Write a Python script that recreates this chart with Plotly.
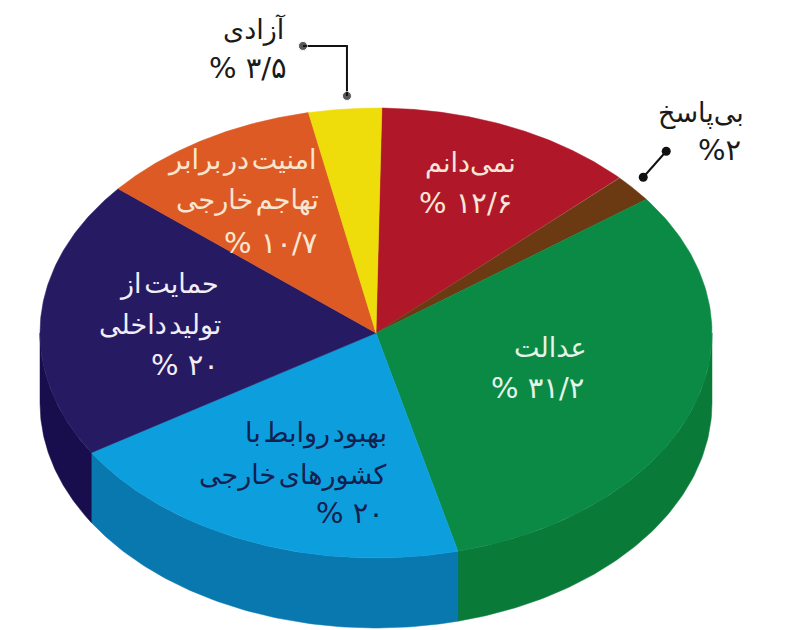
import numpy as np
import plotly.graph_objects as go

# Data, clockwise from the top of the pie
categories = ["نمی‌دانم", "بی‌پاسخ", "عدالت", "بهبود روابط با کشورهای خارجی",
              "حمایت از تولید داخلی", "امنیت در برابر تهاجم خارجی", "آزادی"]
values = [12.6, 2.0, 31.2, 20.0, 20.0, 10.7, 3.5]
top_colors = ["#B0182A", "#6B3A12", "#0A8A45", "#0D9FDD", "#261A63", "#DD5A24", "#EEDD0A"]
side_colors = ["#8E1322", "#52290C", "#0A7A39", "#0878AE", "#190E4D", "#B04418", "#C0B008"]

HAIR = "\u200a"
label_lines = [
    ["نمی‌دانم", "% ۱۲/۶"],
    ["بی‌پاسخ", "%۲"],
    ["عدالت", "% ۳۱/۲"],
    ["بهبود" + HAIR + "روابط" + HAIR + "با", "کشورهای" + HAIR + "خارجی", "% ۲۰"],
    ["حمایت" + HAIR + "از", "تولید" + HAIR + "داخلی", "% ۲۰"],
    ["امنیت" + HAIR + "در" + HAIR + "برابر", "تهاجم" + HAIR + "خارجی", "% ۱۰/۷"],
    ["آزادی", "% ۳/۵"],
]
label_colors = ["#F6E6D8", "#1A1A1A", "#E4F4E8", "#14204F", "#F2EEF6", "#F8E6D2", "#1A1A1A"]
# right edge and vertical centre of each label line, in page pixels
label_right = [[517, 513], [745, 742], [588, 585], [388, 388, 385], [220, 222, 220], [318, 320, 318], [287, 288]]
label_y = [[163, 203], [113, 150], [347, 388], [433, 475, 513], [284, 325, 365], [160, 200, 243], [30, 68]]

# Pie geometry in page pixels
CX, CY, RX, RY, DEPTH = 376, 333, 336, 225, 70
START_DEG = 1.0
FONT = "DejaVu Sans"
TEXT_SIZE = 27
NUMBER_SIZE = 29


def rim(a):
    a = np.radians(a)
    return CX + RX * np.sin(a), CY - RY * np.cos(a)


fig = go.Figure()
edges = START_DEG + 3.6 * np.concatenate([[0], np.cumsum(values)])

# Side wall, only where the rim faces the viewer (90..270 degrees)
for i in range(len(values)):
    a0, a1 = max(edges[i], 90), min(edges[i + 1], 270)
    if a1 <= a0:
        continue
    t = np.linspace(a0, a1, 90)
    x, y = rim(t)
    xs = np.concatenate([x, x[::-1], x[:1]])
    ys = np.concatenate([y, y[::-1] + DEPTH, y[:1]])
    fig.add_trace(go.Scatter(x=xs, y=ys, mode="lines", fill="toself", fillcolor=side_colors[i],
                             line=dict(color=side_colors[i], width=0.5), hoverinfo="skip"))

# Top face
for i, name in enumerate(categories):
    t = np.linspace(edges[i], edges[i + 1], 120)
    x, y = rim(t)
    fig.add_trace(go.Scatter(x=np.concatenate([[CX], x, [CX]]), y=np.concatenate([[CY], y, [CY]]),
                             mode="lines", fill="toself", fillcolor=top_colors[i],
                             line=dict(color=top_colors[i], width=0.5), name=name, hoverinfo="skip"))

# Leader lines
mid = (edges[:-1] + edges[1:]) / 2
bx, by = rim(mid[1])
fig.add_trace(go.Scatter(x=[bx + 10, bx + 33], y=[by - 11, by - 37], mode="lines+markers",
                         line=dict(color="#111111", width=2), marker=dict(color="#111111", size=9),
                         hoverinfo="skip"))
yx, yy = rim(mid[6])
fig.add_trace(go.Scatter(x=[yx + 2, yx + 2, yx - 42], y=[yy - 13, yy - 63, yy - 63], mode="lines+markers",
                         line=dict(color="#111111", width=2),
                         marker=dict(color="#111111", size=[9, 0.1, 9]), hoverinfo="skip"))

for lines, rights, ys, color in zip(label_lines, label_right, label_y, label_colors):
    for text, r, y in zip(lines, rights, ys):
        size = NUMBER_SIZE if "%" in text else TEXT_SIZE
        fig.add_annotation(x=r, y=y, xref="x", yref="y", text=text, showarrow=False,
                           xanchor="right", yanchor="middle", borderpad=0,
                           font=dict(family=FONT, size=size, color=color))

fig.update_layout(width=800, height=630, margin=dict(l=0, r=0, t=0, b=0), showlegend=False,
                  paper_bgcolor="white", plot_bgcolor="white",
                  xaxis=dict(range=[0, 800], visible=False, fixedrange=True),
                  yaxis=dict(range=[630, 0], visible=False, fixedrange=True))
fig.write_html("out.html", config=dict(displayModeBar=False),
               post_script="document.body.style.margin='0';document.body.style.overflow='hidden';")
